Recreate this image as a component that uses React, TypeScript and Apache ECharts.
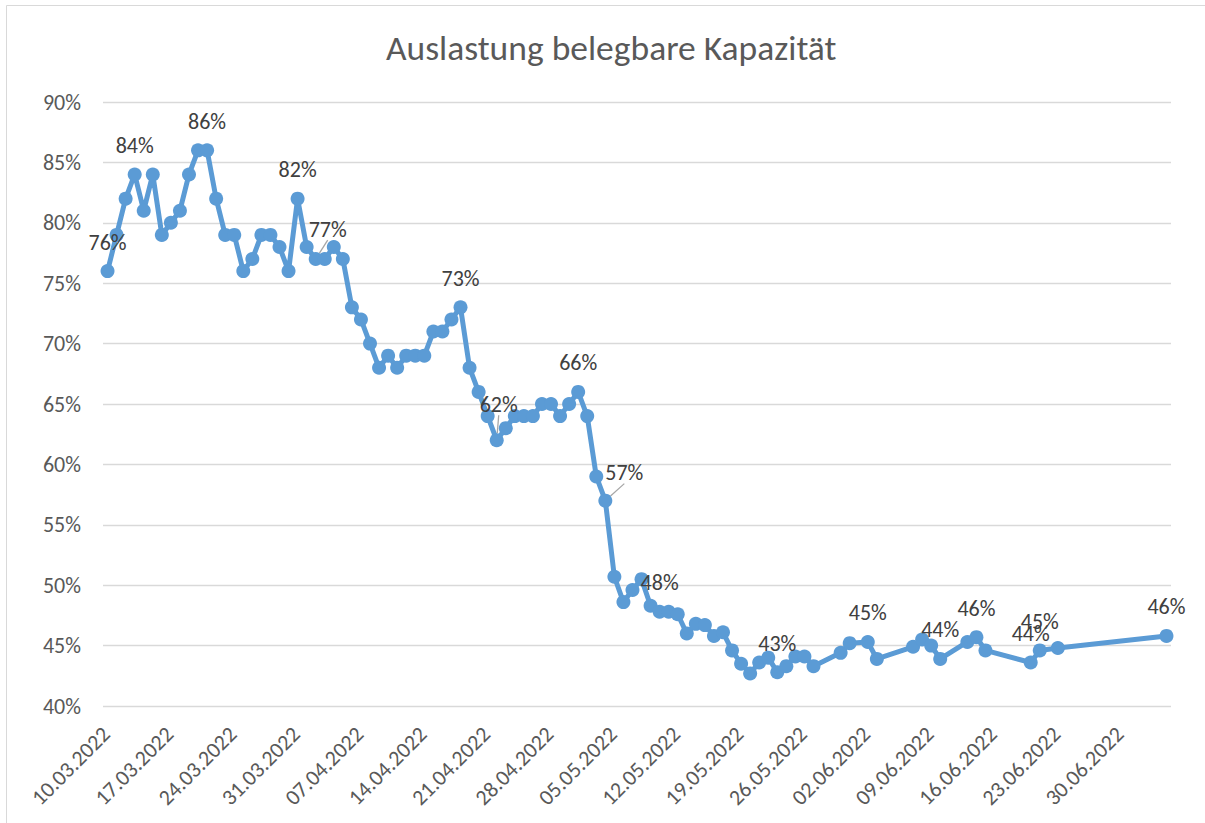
import React, { useEffect, useRef } from "react";
import * as echarts from "echarts";

// ---------- data ----------
const dates: string[] = [
  "10.03.2022", "11.03.2022", "12.03.2022", "13.03.2022", "14.03.2022", "15.03.2022", "16.03.2022",
  "17.03.2022", "18.03.2022", "19.03.2022", "20.03.2022", "21.03.2022", "22.03.2022", "23.03.2022",
  "24.03.2022", "25.03.2022", "26.03.2022", "27.03.2022", "28.03.2022", "29.03.2022", "30.03.2022",
  "31.03.2022", "01.04.2022", "02.04.2022", "03.04.2022", "04.04.2022", "05.04.2022", "06.04.2022",
  "07.04.2022", "08.04.2022", "09.04.2022", "10.04.2022", "11.04.2022", "12.04.2022", "13.04.2022",
  "14.04.2022", "15.04.2022", "16.04.2022", "17.04.2022", "18.04.2022", "19.04.2022", "20.04.2022",
  "21.04.2022", "22.04.2022", "23.04.2022", "24.04.2022", "25.04.2022", "26.04.2022", "27.04.2022",
  "28.04.2022", "29.04.2022", "30.04.2022", "01.05.2022", "02.05.2022", "03.05.2022", "04.05.2022",
  "05.05.2022", "06.05.2022", "07.05.2022", "08.05.2022", "09.05.2022", "10.05.2022", "11.05.2022",
  "12.05.2022", "13.05.2022", "14.05.2022", "15.05.2022", "16.05.2022", "17.05.2022", "18.05.2022",
  "19.05.2022", "20.05.2022", "21.05.2022", "22.05.2022", "23.05.2022", "24.05.2022", "25.05.2022",
  "26.05.2022", "27.05.2022", "30.05.2022", "31.05.2022", "02.06.2022", "03.06.2022", "07.06.2022",
  "08.06.2022", "09.06.2022", "10.06.2022", "13.06.2022", "14.06.2022", "15.06.2022", "20.06.2022",
  "21.06.2022", "23.06.2022", "05.07.2022",
];

const values: number[] = [
  76, 79, 82, 84, 81, 84, 79,
  80, 81, 84, 86, 86, 82, 79,
  79, 76, 77, 79, 79, 78, 76,
  82, 78, 77, 77, 78, 77, 73,
  72, 70, 68, 69, 68, 69, 69,
  69, 71, 71, 72, 73, 68, 66,
  64, 62, 63, 64, 64, 64, 65,
  65, 64, 65, 66, 64, 59, 57,
  50.7, 48.6, 49.6, 50.5, 48.3, 47.8, 47.8,
  47.6, 46.0, 46.8, 46.7, 45.8, 46.1, 44.6,
  43.5, 42.7, 43.6, 44.0, 42.8, 43.3, 44.1,
  44.1, 43.3, 44.4, 45.2, 45.3, 43.9, 44.9,
  45.5, 45.0, 43.9, 45.3, 45.7, 44.6, 43.6,
  44.6, 44.8, 45.8,
];

const tickDates: string[] = [
  "10.03.2022", "17.03.2022", "24.03.2022", "31.03.2022", "07.04.2022", "14.04.2022",
  "21.04.2022", "28.04.2022", "05.05.2022", "12.05.2022", "19.05.2022", "26.05.2022",
  "02.06.2022", "09.06.2022", "16.06.2022", "23.06.2022", "30.06.2022",
];

const labelledDates: string[] = [
  "10.03.2022", "13.03.2022", "21.03.2022", "31.03.2022", "02.04.2022", "18.04.2022",
  "22.04.2022", "01.05.2022", "04.05.2022", "10.05.2022", "23.05.2022", "02.06.2022",
  "10.06.2022", "14.06.2022", "20.06.2022", "21.06.2022", "05.07.2022",
];

// labels dragged away from their default place (pixel shift dx, dy)
const movedLabelDates: string[] = ["02.04.2022", "22.04.2022", "04.05.2022"];
const movedLabelShift: [number, number][] = [[12, -1], [2, -7], [19, 1]];

const yMin = 40;
const yMax = 90;
const yStep = 5;

const TITLE = "Auslastung belegbare Kapazität";

// ---------- helpers ----------
const DAY = 86400000;
function toTime(d: string): number {
  const [dd, mm, yy] = d.split(".").map(Number);
  return Date.UTC(yy, mm - 1, dd);
}
function fmtDate(t: number): string {
  const d = new Date(t);
  const p = (n: number) => String(n).padStart(2, "0");
  return `${p(d.getUTCDate())}.${p(d.getUTCMonth() + 1)}.${d.getUTCFullYear()}`;
}

const FONT = "Carlito, Calibri, 'Open Sans', sans-serif";
const BLUE = "#5B9BD5";

export default function App() {
  const ref = useRef<HTMLDivElement>(null);

  useEffect(() => {
    if (!ref.current) return;
    const chart = echarts.init(ref.current, null, { renderer: "svg" });

    const seriesData = dates.map((d, i) => {
      const item: any = { value: [toTime(d), values[i]] };
      if (labelledDates.includes(d)) {
        item.label = { show: true };
        if (movedLabelDates.includes(d)) item.labelLine = { show: true };
      }
      return item;
    });

    const xMin = toTime(dates[0]) - DAY / 2;
    const xMax = toTime(dates[dates.length - 1]) + DAY / 2;

    chart.setOption({
      animation: false,
      backgroundColor: "#ffffff",
      title: {
        text: TITLE,
        left: 381,
        top: 25,
        textStyle: {
          fontFamily: FONT,
          fontSize: 35.5,
          fontWeight: "normal",
          color: "#595959",
        },
      },
      graphic: [
        {
          type: "rect",
          shape: { x: 6.5, y: 5.5, width: 1220, height: 840 },
          style: { fill: "none", stroke: "#D9D9D9", lineWidth: 1 },
          silent: true,
        },
      ],
      grid: { left: 103, right: 34, top: 102, bottom: 117, containLabel: false },
      xAxis: {
        type: "value",
        min: xMin,
        max: xMax,
        axisLine: { show: false },
        axisTick: { show: false },
        splitLine: { show: false },
        axisLabel: {
          customValues: tickDates.map(toTime),
          formatter: (v: number) => fmtDate(v),
          rotate: 45,
          align: "right",
          verticalAlign: "middle",
          margin: 23,
          padding: [0, 2, 0, 0],
          fontFamily: FONT,
          fontSize: 22,
          color: "#595959",
        },
      },
      yAxis: {
        type: "value",
        min: yMin,
        max: yMax,
        interval: yStep,
        axisLine: { show: false },
        axisTick: { show: false },
        splitLine: { lineStyle: { color: "#D9D9D9", width: 1.3 } },
        axisLabel: {
          formatter: "{value}%",
          margin: 22,
          fontFamily: FONT,
          fontSize: 22,
          color: "#595959",
        },
      },
      series: [
        {
          type: "line",
          data: seriesData,
          symbol: "circle",
          symbolSize: 14,
          showAllSymbol: true,
          lineStyle: { color: BLUE, width: 5 },
          itemStyle: { color: BLUE },
          label: {
            show: false,
            position: "top",
            distance: 11,
            formatter: (p: any) => Math.round(p.value[1]) + "%",
            fontFamily: FONT,
            fontSize: 22,
            color: "#404040",
          },
          labelLine: {
            show: false,
            lineStyle: { color: "#A6A6A6", width: 1.3 },
          },
          labelLayout: (params: any) => {
            const k = movedLabelDates.indexOf(dates[params.dataIndex]);
            if (k < 0) return {};
            return { dx: movedLabelShift[k][0], dy: movedLabelShift[k][1] };
          },
          emphasis: { disabled: true },
        },
      ],
    });

    return () => chart.dispose();
  }, []);

  return (
    <div
      ref={ref}
      style={{ position: "fixed", left: 0, top: 0, width: 1205, height: 823 }}
    />
  );
}
